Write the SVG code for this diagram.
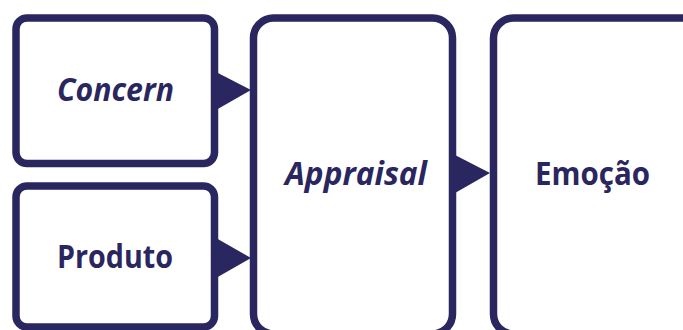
<svg xmlns="http://www.w3.org/2000/svg" width="683" height="330" viewBox="0 0 683 330">
<style>
.box{fill:#ffffff;stroke:#2a2660;stroke-width:7.5}
.arr{fill:#2a2660;stroke:none}
.t{font-family:"Open Sans","Liberation Sans",sans-serif;font-weight:bold;font-size:33px;fill:#2a2660;text-anchor:middle}
.i{font-style:italic}
</style>
<rect width="683" height="330" fill="#ffffff"/>
<g id="concern">
<rect class="box" x="16" y="18" width="198.5" height="145.5" rx="11"/>
<text class="t i" x="115.5" y="101" textLength="117" lengthAdjust="spacingAndGlyphs">Concern</text>
</g>
<g id="produto">
<rect class="box" x="16" y="186" width="198.5" height="141" rx="11"/>
<text class="t" x="115" y="268" textLength="116" lengthAdjust="spacingAndGlyphs">Produto</text>
</g>
<g id="appraisal">
<rect class="box" x="253.5" y="18" width="199" height="316" rx="20"/>
<text class="t i" x="356" y="185" textLength="142" lengthAdjust="spacingAndGlyphs">Appraisal</text>
</g>
<g id="emocao">
<rect class="box" x="493.5" y="18" width="260" height="316" rx="20"/>
<text class="t" x="592.5" y="185" textLength="115" lengthAdjust="spacingAndGlyphs">Emoção</text>
</g>
<g id="connectors">
<polygon class="arr" points="216,72 251,90 216,110"/>
<polygon class="arr" points="216,238 251,258 216,278"/>
<polygon class="arr" points="455,155 490,173 455,193"/>
</g>
</svg>
